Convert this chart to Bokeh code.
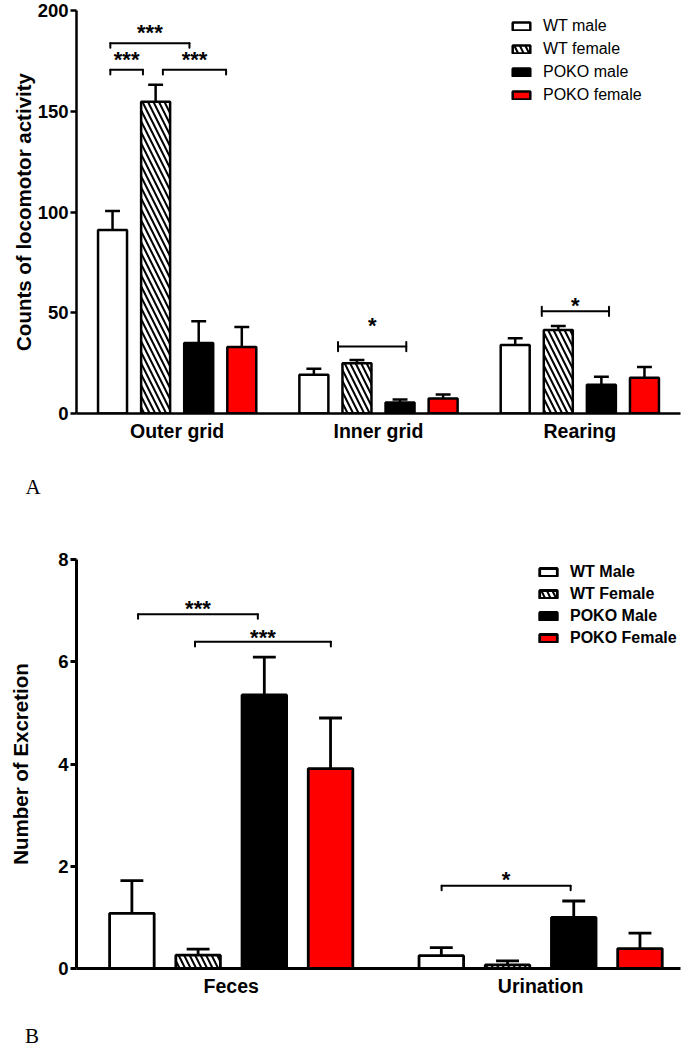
from bokeh.plotting import figure
from bokeh.models import (Range1d, FixedTicker, Legend, LegendItem, Title, Div)
from bokeh.layouts import column
from bokeh.core.properties import value
from bokeh.embed import file_html
from bokeh.resources import INLINE

# ---------------- Panel A data ----------------
categories_a = ["Outer grid", "Inner grid", "Rearing"]
series_a = ["WT male", "WT female", "POKO male", "POKO female"]
wt_male_a = [91.1, 19.2, 34.0]
wt_male_err_a = [9.4, 3.0, 3.4]
wt_female_a = [154.7, 25.0, 41.4]
wt_female_err_a = [8.4, 1.6, 2.0]
poko_male_a = [35.0, 5.4, 14.3]
poko_male_err_a = [10.8, 1.5, 3.9]
poko_female_a = [33.0, 7.4, 17.7]
poko_female_err_a = [9.9, 2.0, 5.4]
yticks_a = [0, 50, 100, 150, 200]

sig_cat_a = ["Outer grid", "Outer grid", "Outer grid", "Inner grid", "Rearing"]
sig_from_a = [-0.332, -0.332, -0.071, -0.201, -0.189]
sig_to_a = [0.061, -0.170, 0.243, 0.138, 0.145]
sig_level_a = [183.8, 170.6, 170.6, 33.2, 50.7]
sig_text_a = ["***", "***", "***", "*", "*"]
sig_text_level_a = [189.0, 175.6, 175.6, 43.6, 53.8]
sig_style_a = ["down", "down", "down", "both", "both"]

# ---------------- Panel B data ----------------
categories_b = ["Feces", "Urination"]
series_b = ["WT Male", "WT Female", "POKO Male", "POKO Female"]
wt_male_b = [1.08, 0.25]
wt_male_err_b = [0.64, 0.16]
wt_female_b = [0.26, 0.07]
wt_female_err_b = [0.12, 0.08]
poko_male_b = [5.35, 1.00]
poko_male_err_b = [0.74, 0.32]
poko_female_b = [3.91, 0.39]
poko_female_err_b = [0.99, 0.30]
yticks_b = [0, 2, 4, 6, 8]

sig_cat_b = ["Feces", "Feces", "Urination"]
sig_from_b = [-0.301, -0.117, -0.320]
sig_to_b = [0.086, 0.322, 0.097]
sig_level_b = [6.93, 6.39, 1.62]
sig_text_b = ["***", "***", "*"]
sig_text_level_b = [7.05, 6.47, 1.75]
sig_style_b = ["down", "down", "down"]

# ---------------- styling ----------------
OFFSETS = [-0.321, -0.107, 0.107, 0.321]
BAR_W = 0.144
CAP = 0.037
FILLS = ["white", "white", "black", "#ff0000"]
HATCHES = [None, "left_diagonal_line", None, None]
FONT = "Liberation Sans"


def build(cats, names, means, errs, xmax, ymax, yticks, ylabel,
          sig_cat, sig_from, sig_to, sig_level, sig_text, sig_text_level, sig_style,
          tick_h, width, height, borders, ylabel_standoff, legend_xy, legend_bold,
          label_h, lw, axis_lw):
    bl, br, bt, bb = borders
    p = figure(width=width, height=height,
               x_range=Range1d(0, xmax), y_range=Range1d(0, ymax),
               output_backend="svg", toolbar_location=None,
               min_border_left=bl, min_border_right=br,
               min_border_top=bt, min_border_bottom=bb)
    p.xgrid.visible = False
    p.ygrid.visible = False
    p.outline_line_color = None

    # category centres on the x scale
    pos = {c: j + 0.5 for j, c in enumerate(cats)}

    renderers = []
    for i, name in enumerate(names):
        xs = [pos[c] + OFFSETS[i] for c in cats]
        tops = [m + e for m, e in zip(means[i], errs[i])]
        p.segment(x0=xs, y0=means[i], x1=xs, y1=tops,
                  line_color="black", line_width=lw)
        p.segment(x0=[x - CAP for x in xs], y0=tops,
                  x1=[x + CAP for x in xs], y1=tops,
                  line_color="black", line_width=lw)
        r = p.vbar(x=xs, top=means[i], width=BAR_W, fill_color=FILLS[i],
                   line_color="black", line_width=lw,
                   hatch_pattern=HATCHES[i], hatch_color="black",
                   hatch_weight=2, hatch_scale=11)
        renderers.append(r)

    bx0, by0, bx1, by1 = [], [], [], []
    tx, ty = [], []
    for c, f, t, y, st, yt in zip(sig_cat, sig_from, sig_to, sig_level,
                                  sig_style, sig_text_level):
        a, b = pos[c] + f, pos[c] + t
        bx0.append(a); bx1.append(b); by0.append(y); by1.append(y)
        for xe in (a, b):
            bx0.append(xe); bx1.append(xe)
            if st == "down":
                by0.append(y); by1.append(y - tick_h)
            else:
                by0.append(y + tick_h); by1.append(y - tick_h)
        tx.append((a + b) / 2.0); ty.append(yt)
    p.segment(x0=bx0, y0=by0, x1=bx1, y1=by1, line_color="black",
              line_width=2, line_cap="round")
    p.text(x=tx, y=ty, text=sig_text, text_font=value(FONT),
           text_font_size="22px", text_font_style="bold", text_align="center",
           text_baseline="middle", text_color="black")

    # y axis
    p.yaxis.ticker = FixedTicker(ticks=yticks)
    p.yaxis.axis_line_width = axis_lw
    p.yaxis.major_tick_line_width = axis_lw
    p.yaxis.major_tick_out = 6
    p.yaxis.major_tick_in = 0
    p.yaxis.minor_tick_out = 0
    p.yaxis.minor_tick_in = 0
    p.yaxis.major_label_text_font = FONT
    p.yaxis.major_label_text_font_size = "18.5px"
    p.yaxis.major_label_text_font_style = "bold"
    p.yaxis.major_label_text_color = "black"
    p.yaxis.major_label_standoff = 2
    p.yaxis.axis_label = ylabel
    p.yaxis.axis_label_text_font = FONT
    p.yaxis.axis_label_text_font_size = "20.5px"
    p.yaxis.axis_label_text_font_style = "bold"
    p.yaxis.axis_label_text_color = "black"
    p.yaxis.axis_label_standoff = ylabel_standoff

    # x axis with the category names at the group centres
    p.xaxis.ticker = FixedTicker(ticks=[pos[c] for c in cats])
    p.xaxis.major_label_overrides = {pos[c]: c for c in cats}
    p.xaxis.axis_line_width = axis_lw
    p.xaxis.major_tick_out = 0
    p.xaxis.major_tick_in = 0
    p.xaxis.minor_tick_out = 0
    p.xaxis.minor_tick_in = 0
    p.xaxis.major_label_text_font = FONT
    p.xaxis.major_label_text_font_size = "19.5px"
    p.xaxis.major_label_text_font_style = "bold"
    p.xaxis.major_label_text_color = "black"
    p.xaxis.major_label_standoff = 6

    legend = Legend(items=[LegendItem(label=n, renderers=[r])
                           for n, r in zip(names, renderers)],
                    location=legend_xy, glyph_width=22, glyph_height=10,
                    label_standoff=11, label_height=label_h,
                    spacing=1 if label_h < 22 else 0,
                    padding=0, margin=0, border_line_color=None,
                    background_fill_alpha=0,
                    label_text_font=FONT, label_text_font_size="16px",
                    label_text_font_style="bold" if legend_bold else "normal",
                    label_text_color="black")
    p.add_layout(legend)
    return p


pa = build(categories_a, series_a,
           [wt_male_a, wt_female_a, poko_male_a, poko_female_a],
           [wt_male_err_a, wt_female_err_a, poko_male_err_a, poko_female_err_a],
           3, 200, yticks_a, "Counts of locomotor activity",
           sig_cat_a, sig_from_a, sig_to_a, sig_level_a, sig_text_a,
           sig_text_level_a, sig_style_a, 2.3,
           681, 528, (70, 1, 10, 115), 0, (434, 307), False, 23,
           2.5, 2.5)
pa.add_layout(Title(text="A", align="left", offset=-51, standoff=56,
                    vertical_align="bottom", text_font="Liberation Serif",
                    text_font_size="21px", text_font_style="normal",
                    text_color="black"), "below")

pb = build(categories_b, series_b,
           [wt_male_b, wt_female_b, poko_male_b, poko_female_b],
           [wt_male_err_b, wt_female_err_b, poko_male_err_b, poko_female_err_b],
           1.952, 8, yticks_b, "Number of Excretion",
           sig_cat_b, sig_from_b, sig_to_b, sig_level_b, sig_text_b,
           sig_text_level_b, sig_style_b, 0.09,
           681, 471, (76, 1, 31, 31), 23, (461, 319), True, 22,
           2.8, 3)

letter_b = Div(text=("<div style=\"font-family:'Liberation Serif';font-size:21px;"
                     "line-height:24px;padding:25px 0 0 25px;margin:0;color:black\">B</div>"),
               width=681, height=51, margin=0)

layout = column(pa, pb, letter_b, spacing=0)
open("out.html", "w").write(file_html(layout, INLINE))
